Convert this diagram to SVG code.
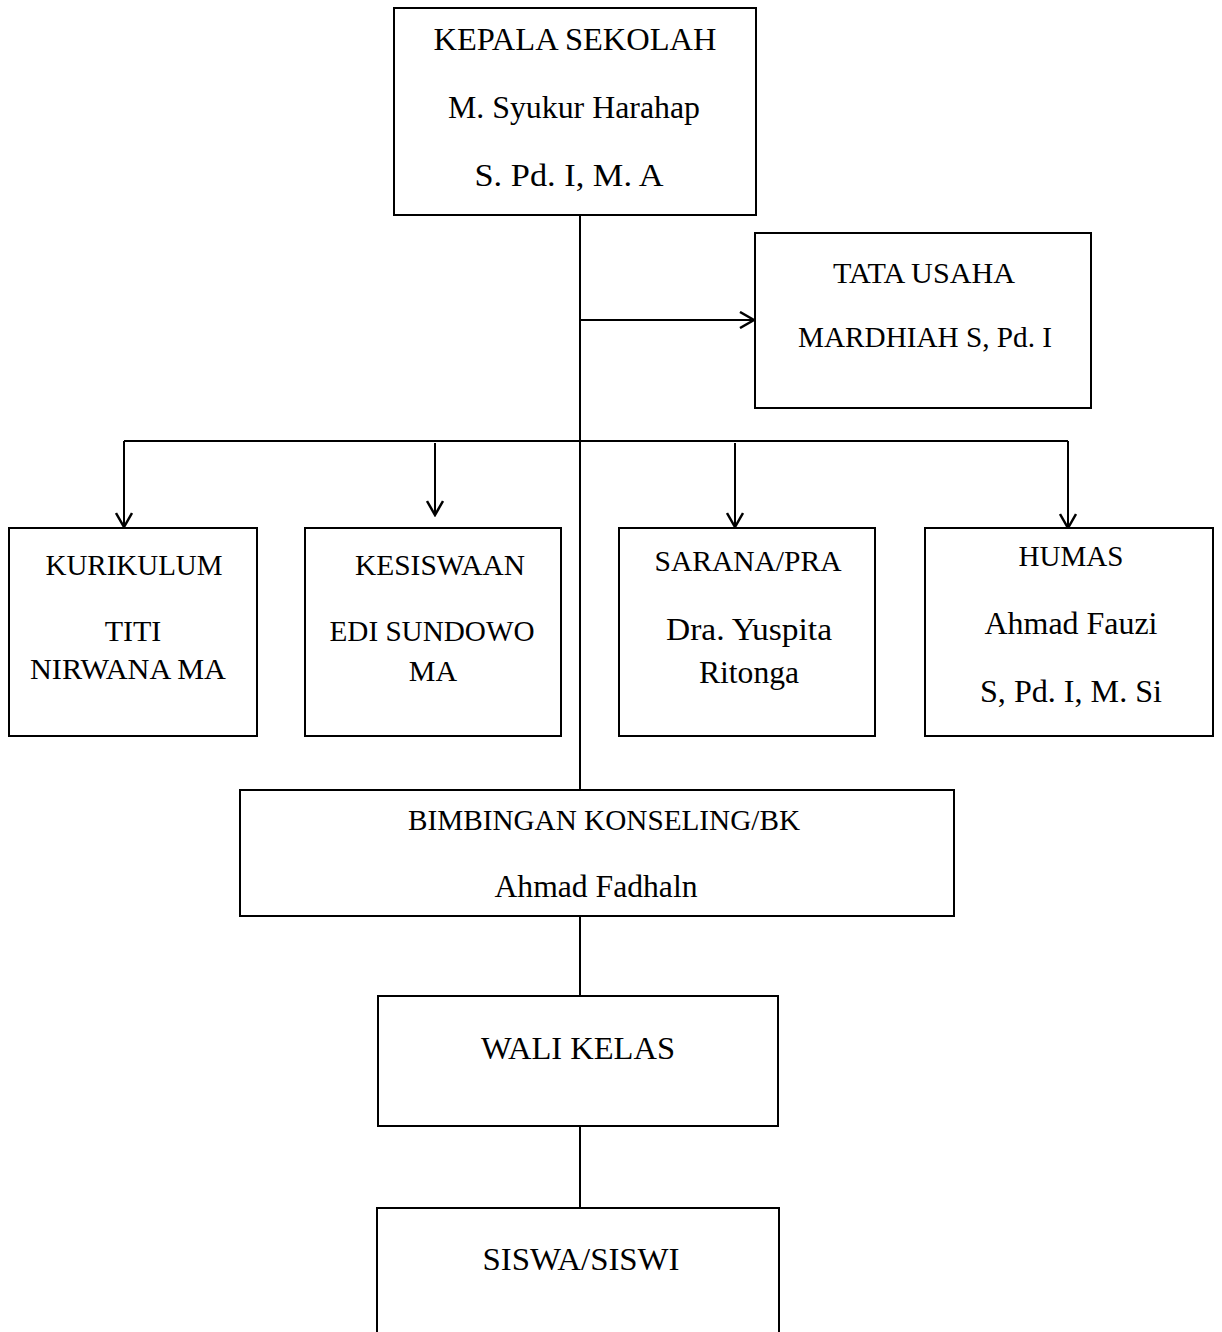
<svg xmlns="http://www.w3.org/2000/svg" width="1222" height="1332" viewBox="0 0 1222 1332">
<style>
.box{fill:#fff;stroke:#000;stroke-width:2}
.t{font-family:"Liberation Serif","Times New Roman",serif;font-size:30px;fill:#000;text-anchor:middle}
.l{font-size:32px}
.c{fill:none;stroke:#000;stroke-width:2}
</style>
<defs>
<marker id="arr" markerWidth="18" markerHeight="18" refX="16" refY="9" orient="auto" markerUnits="userSpaceOnUse">
<path d="M2,1 L16,9 L2,17" fill="none" stroke="#000" stroke-width="2.5"/>
</marker>
</defs>
<rect width="1222" height="1332" fill="#fff"/>
<g id="connectors">
<line class="c" x1="580" y1="215" x2="580" y2="790"/>
<line class="c" x1="580" y1="320" x2="754" y2="320" marker-end="url(#arr)"/>
<line class="c" x1="124" y1="441" x2="1068" y2="441"/>
<line class="c" x1="124" y1="441" x2="124" y2="527" marker-end="url(#arr)"/>
<line class="c" x1="435" y1="443" x2="435" y2="515" marker-end="url(#arr)"/>
<line class="c" x1="735" y1="443" x2="735" y2="527" marker-end="url(#arr)"/>
<line class="c" x1="1068" y1="441" x2="1068" y2="528" marker-end="url(#arr)"/>
<line class="c" x1="580" y1="916" x2="580" y2="996"/>
<line class="c" x1="580" y1="1126" x2="580" y2="1208"/>
</g>
<g id="kepala">
<rect class="box" x="394" y="8" width="362" height="207"/>
<text class="t l" x="575" y="50" textLength="283" lengthAdjust="spacingAndGlyphs">KEPALA SEKOLAH</text>
<text class="t l" x="574" y="118" textLength="252" lengthAdjust="spacingAndGlyphs">M. Syukur Harahap</text>
<text class="t l" x="569" y="186" textLength="189" lengthAdjust="spacingAndGlyphs">S. Pd. I, M. A</text>
</g>
<g id="tata-usaha">
<rect class="box" x="755" y="233" width="336" height="175"/>
<text class="t" x="924" y="283" textLength="182" lengthAdjust="spacingAndGlyphs">TATA USAHA</text>
<text class="t" x="925" y="347" textLength="254" lengthAdjust="spacingAndGlyphs">MARDHIAH S, Pd. I</text>
</g>
<g id="kurikulum">
<rect class="box" x="9" y="528" width="248" height="208"/>
<text class="t" x="134" y="575" textLength="177" lengthAdjust="spacingAndGlyphs">KURIKULUM</text>
<text class="t" x="133" y="641">TITI</text>
<text class="t" x="128" y="679" textLength="196" lengthAdjust="spacingAndGlyphs">NIRWANA MA</text>
</g>
<g id="kesiswaan">
<rect class="box" x="305" y="528" width="256" height="208"/>
<text class="t" x="440" y="575" textLength="170" lengthAdjust="spacingAndGlyphs">KESISWAAN</text>
<text class="t" x="432" y="641" textLength="205" lengthAdjust="spacingAndGlyphs">EDI SUNDOWO</text>
<text class="t" x="433" y="681">MA</text>
</g>
<g id="sarana">
<rect class="box" x="619" y="528" width="256" height="208"/>
<text class="t" x="748" y="571" textLength="187" lengthAdjust="spacingAndGlyphs">SARANA/PRA</text>
<text class="t l" x="749" y="640" textLength="166" lengthAdjust="spacingAndGlyphs">Dra. Yuspita</text>
<text class="t l" x="749" y="683" textLength="100" lengthAdjust="spacingAndGlyphs">Ritonga</text>
</g>
<g id="humas">
<rect class="box" x="925" y="528" width="288" height="208"/>
<text class="t" x="1071" y="566" textLength="105" lengthAdjust="spacingAndGlyphs">HUMAS</text>
<text class="t l" x="1071" y="634" textLength="173" lengthAdjust="spacingAndGlyphs">Ahmad Fauzi</text>
<text class="t l" x="1071" y="702" textLength="182" lengthAdjust="spacingAndGlyphs">S, Pd. I, M. Si</text>
</g>
<g id="bk">
<rect class="box" x="240" y="790" width="714" height="126"/>
<text class="t" x="604" y="830" textLength="392" lengthAdjust="spacingAndGlyphs">BIMBINGAN KONSELING/BK</text>
<text class="t l" x="596" y="897" textLength="203" lengthAdjust="spacingAndGlyphs">Ahmad Fadhaln</text>
</g>
<g id="wali-kelas">
<rect class="box" x="378" y="996" width="400" height="130"/>
<text class="t l" x="578" y="1059" textLength="194" lengthAdjust="spacingAndGlyphs">WALI KELAS</text>
</g>
<g id="siswa">
<rect class="box" x="377" y="1208" width="402" height="140"/>
<text class="t l" x="581" y="1270" textLength="197" lengthAdjust="spacingAndGlyphs">SISWA/SISWI</text>
</g>
</svg>
